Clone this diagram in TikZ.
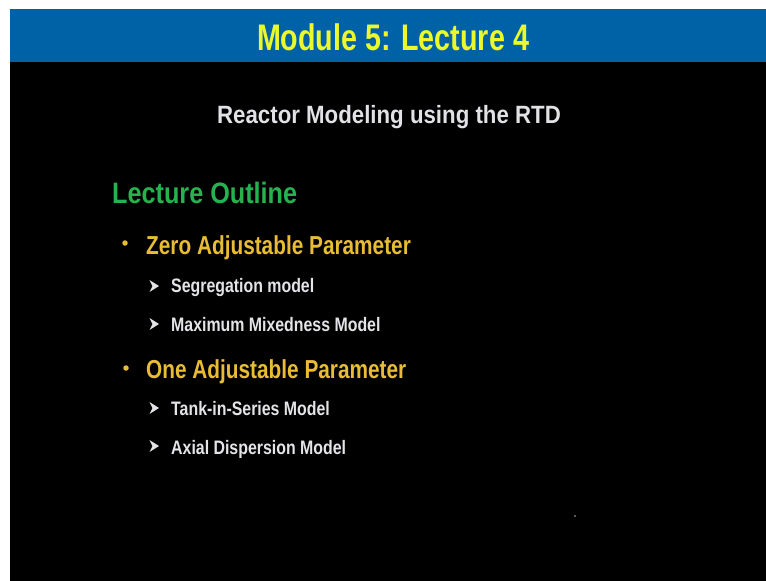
\documentclass[tikz,border=0pt]{standalone}
\usepackage{fontspec}
\setmainfont{Liberation Sans}
\newfontfamily\ftitle{Liberation Sans}[FakeStretch=0.775]
\newfontfamily\fsub{Liberation Sans}[FakeStretch=0.89]
\newfontfamily\fhead{Liberation Sans}[FakeStretch=0.855]
\newfontfamily\fone{Liberation Sans}[FakeStretch=0.80]
\newfontfamily\ftwo{Liberation Sans}[FakeStretch=0.815]
\definecolor{bannerblue}{RGB}{0,98,166}
\definecolor{titleyellow}{RGB}{236,248,44}
\definecolor{subgray}{RGB}{226,226,230}
\definecolor{outgreen}{RGB}{38,178,78}
\definecolor{gold}{RGB}{232,188,52}
\definecolor{itemgray}{RGB}{228,228,232}
\begin{document}
\begin{tikzpicture}[x=1pt,y=-1pt,
  txt/.style={inner sep=0pt},
  title/.style={txt, anchor=base, text=titleyellow, font=\ftitle\bfseries\fontsize{37}{42}\selectfont},
  subtitle/.style={txt, anchor=base, text=subgray, font=\fsub\bfseries\fontsize{25}{30}\selectfont},
  heading/.style={txt, anchor=base west, text=outgreen, font=\fhead\bfseries\fontsize{29.5}{34}\selectfont},
  level1/.style={txt, anchor=base west, text=gold, font=\fone\bfseries\fontsize{26}{30}\selectfont},
  level2/.style={txt, anchor=base west, text=itemgray, font=\ftwo\bfseries\fontsize{19.5}{23}\selectfont},
  dotbullet/.style={circle, fill=gold, inner sep=0pt, minimum size=5.5pt},
  abullet/.pic={\fill[itemgray] (-4.5,-6) -- (5,0) -- (-4.5,6) -- (-1.5,0) -- cycle;}]
\useasboundingbox (0,0) rectangle (766,581);
\fill[white] (0,0) rectangle (766,581);
\fill[black] (10,9) rectangle (766,581);
\fill[bannerblue] (10,9) rectangle (766,62);
\node[title] (t) at (393,50) {Module 5: Lecture 4};
\node[subtitle] (s) at (389,123) {Reactor Modeling using the RTD};
\node[heading] (h) at (112,203) {Lecture Outline};
\node[dotbullet] (b1) at (125,243) {};
\node[level1] (z) at (146,254) {Zero Adjustable Parameter};
\pic at (154,286) {abullet};
\node[level2] (i1) at (171,292) {Segregation model};
\pic at (154,324) {abullet};
\node[level2] (i2) at (171,331) {Maximum Mixedness Model};
\node[dotbullet] (b2) at (126,368) {};
\node[level1] (o) at (146,378) {One Adjustable Parameter};
\pic at (154,408) {abullet};
\node[level2] (i3) at (171,415) {Tank-in-Series Model};
\pic at (154,446) {abullet};
\node[level2] (i4) at (171,454) {Axial Dispersion Model};
\fill[gray!60] (575,516) circle (0.8);
\end{tikzpicture}
\end{document}
